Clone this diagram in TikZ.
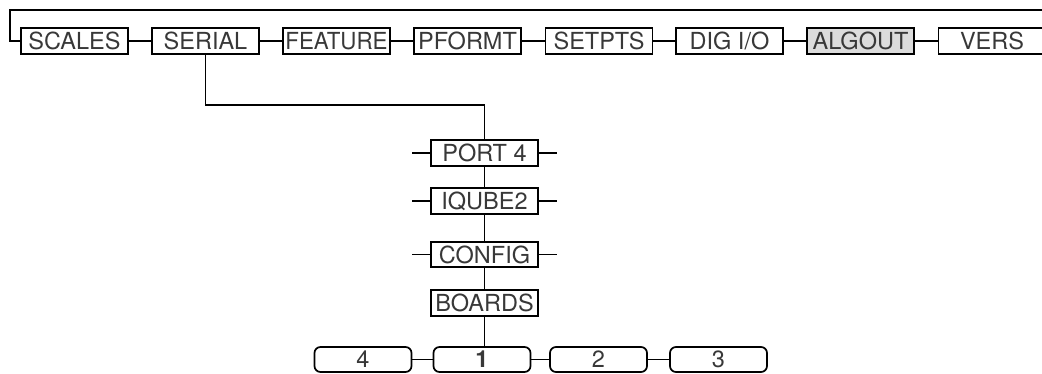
\documentclass[tikz,border=0pt]{standalone}
\usepackage{fontspec}
\usepackage{graphicx}
\setmainfont{TeX Gyre Heros}
\definecolor{txt}{HTML}{383838}
\definecolor{hl}{HTML}{DCDCDC}
\begin{document}
\begin{tikzpicture}[x=1pt,y=-1pt,
  menubox/.style={draw=black,line width=1.7pt,minimum width=107pt,minimum height=25.5pt,inner sep=0pt,
    font=\fontsize{23.5}{25}\selectfont,text=txt},
  valbox/.style={draw=black,line width=1.7pt,rounded corners=6pt,minimum width=97pt,minimum height=25pt,inner sep=0pt,
    font=\fontsize{23.5}{25}\selectfont,text=txt},
  conn/.style={draw=black,line width=1.7pt}]
\useasboundingbox (0,0) rectangle (1042,373);
\clip (0,0) rectangle (1042,373);
% top row
\node[menubox] (scales) at (74.5,41) {SCALES};
\node[menubox] (serial) at (205.5,41) {SERIAL};
\node[menubox] (feature) at (336.5,41) {\scalebox{0.95}[1]{FEATURE}};
\node[menubox] (pformt) at (467.5,41) {PFORMT};
\node[menubox] (setpts) at (599,41) {SETPTS};
\node[menubox] (digio) at (729.5,41) {DIG I/O};
\node[menubox,fill=hl] (algout) at (860.5,41) {ALGOUT};
\node[menubox] (vers) at (992,41) {VERS};
\coordinate (tl) at (10,10);
\coordinate (tr) at (1050,10);
\draw[conn] (scales.west) -| (tl) -- (tr);
\draw[conn] (scales) -- (serial);
\draw[conn] (serial) -- (feature);
\draw[conn] (feature) -- (pformt);
\draw[conn] (pformt) -- (setpts);
\draw[conn] (setpts) -- (digio);
\draw[conn] (digio) -- (algout);
\draw[conn] (algout) -- (vers);
% column
\node[menubox] (port) at (484.5,153) {PORT 4};
\node[menubox] (iqube) at (484.5,201) {IQUBE2};
\node[menubox] (config) at (484.5,254.5) {CONFIG};
\node[menubox] (boards) at (484.5,303) {BOARDS};
\coordinate (bend) at (205.5,105);
\draw[conn] (serial.south) -- (bend) -| (port.north);
\draw[conn] (port) -- (iqube);
\draw[conn] (iqube) -- (config);
\draw[conn] (config) -- (boards);
\foreach \n in {port,iqube,config}{
  \coordinate (\n L) at ([xshift=-18pt]\n.west);
  \coordinate (\n R) at ([xshift=18pt]\n.east);
  \draw[conn] (\n.west) -- (\n L);
  \draw[conn] (\n.east) -- (\n R);
}
% bottom row
\node[valbox] (v4) at (363,359.5) {4};
\node[valbox] (v1) at (482,359.5) {\textbf{1}};
\node[valbox] (v2) at (598.5,359.5) {2};
\node[valbox] (v3) at (718.5,359.5) {3};
\draw[conn] (boards.south) -- (boards.south |- v1.north);
\draw[conn] (v4) -- (v1);
\draw[conn] (v1) -- (v2);
\draw[conn] (v2) -- (v3);
\end{tikzpicture}
\end{document}
